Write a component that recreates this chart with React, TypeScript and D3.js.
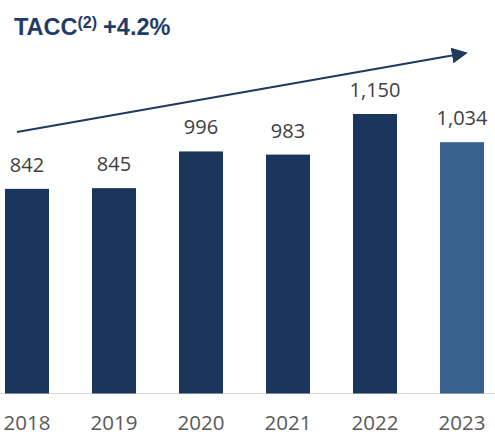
import React from "react";
import * as d3 from "d3";

const years = ["2018", "2019", "2020", "2021", "2022", "2023"];
const values = [842, 845, 996, 983, 1150, 1034];
const titleMain = "TACC";
const titleSup = "(2)";
const titleRate = "+4.2%";

export default function App() {
  const W = 495, H = 435;
  const baseline = 393.5;
  const x = d3.scaleBand<string>().domain(years).range([-16.5, 505.5]).paddingInner(0.494).paddingOuter(0.247);
  const y = d3.scaleLinear().domain([0, 1150]).range([baseline, 114]);
  const fmt = d3.format(",");
  const arrow = d3.line()([[17, 132], [452, 55.5]]);
  return (
    <svg width={W} height={H} style={{ position: "absolute", left: 0, top: 0 }}>
      <defs>
        <marker id="ah" viewBox="0 0 10 10" refX="0" refY="5" markerUnits="userSpaceOnUse" markerWidth="16" markerHeight="16" orient="auto">
          <path d="M0,0 L10,5 L0,10 Z" fill="#1f3a5f" />
        </marker>
      </defs>
      <text x={14} y={35} fontFamily="Liberation Sans, Arial, sans-serif" fontWeight="bold" fontSize={23.5} fill="#1f3c64">
        <tspan>{titleMain}</tspan>
        <tspan fontSize={16} dy={-7}>{titleSup}</tspan>
        <tspan dy={7} dx={6}>{titleRate}</tspan>
      </text>
      <line x1={0} x2={495} y1={baseline} y2={baseline} stroke="#d9d9d9" strokeWidth={1} />
      {years.map((yr, i) => (
        <g key={yr}>
          <rect x={x(yr)} y={y(values[i])} width={x.bandwidth()} height={baseline - y(values[i])} fill={i === 5 ? "#38618f" : "#1b365d"} />
          <text x={x(yr)! + x.bandwidth() / 2} y={y(values[i]) - 17} textAnchor="middle" fontFamily="Open Sans, sans-serif" fontSize={20} fill="#404040">
            {fmt(values[i])}
          </text>
          <text x={x(yr)! + x.bandwidth() / 2} y={430} textAnchor="middle" fontFamily="Open Sans, sans-serif" fontSize={20.5} fill="#595959">
            {yr}
          </text>
        </g>
      ))}
      <path d={arrow!} stroke="#1f3a5f" strokeWidth={2.2} fill="none" markerEnd="url(#ah)" />
    </svg>
  );
}
